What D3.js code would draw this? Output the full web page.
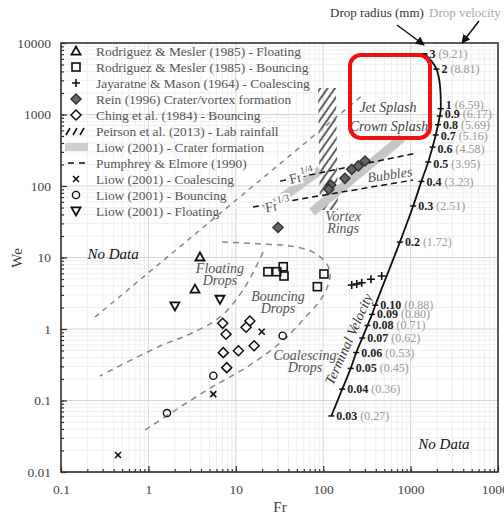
<!DOCTYPE html>
<html>
<head>
<meta charset="utf-8">
<script src="https://cdn.jsdelivr.net/npm/d3@7"></script>
<style>
  body { margin: 0; background: #fff; }
  text { font-family: "Liberation Serif", "DejaVu Serif", serif; }
</style>
</head>
<body>
<div id="chart"></div>
<script>
// ---- data (Fr, We) ----
var rmFloatFr = [3.89, 3.41], rmFloatWe = [10.2, 3.62];
var rmBounceFr = [23.3, 29.4, 34.9, 35.6, 102, 85.7], rmBounceWe = [6.33, 6.33, 7.43, 5.51, 5.88, 3.91];
var jmFr = [212, 242, 276, 352, 467], jmWe = [4.12, 4.26, 4.44, 4.96, 5.51];
var reinFr = [30.4, 122, 116, 177, 212, 252, 301], reinWe = [26.3, 103, 90, 128, 171, 191, 224];
var chingFr = [7.08, 7.73, 14.5, 13.1, 16.2, 10.7, 7.19, 7.87], chingWe = [1.20, 0.844, 1.29, 1.06, 0.583, 0.497, 0.467, 0.288];
var liowCoalFr = [0.449, 5.53, 19.8], liowCoalWe = [0.0173, 0.123, 0.916];
var liowBounceFr = [1.63, 5.53, 34.4], liowBounceWe = [0.0668, 0.222, 0.806];
var liowFloatFr = [2.01, 6.59], liowFloatWe = [2.10, 2.60];

// terminal velocity: drop radius (mm) and velocity (m/s)
var radii = [3, 2, 1, 0.9, 0.8, 0.7, 0.6, 0.5, 0.4, 0.3, 0.2, 0.10, 0.09, 0.08, 0.07, 0.06, 0.05, 0.04, 0.03];
var radiusLabels = ["3", "2", "1", "0.9", "0.8", "0.7", "0.6", "0.5", "0.4", "0.3", "0.2", "0.10", "0.09", "0.08", "0.07", "0.06", "0.05", "0.04", "0.03"];
var velocities = [9.21, 8.81, 6.59, 6.17, 5.69, 5.16, 4.58, 3.95, 3.23, 2.51, 1.72, 0.88, 0.80, 0.71, 0.62, 0.53, 0.45, 0.36, 0.27];

// regime boundaries (gray dashed)
var noDataLine = [[0.245, 1.47], [285, 1874]];
var bounceOuter = [[6.95, 16.5], [18.9, 15.5], [41.7, 14.5], [76.4, 11.9], [108, 8.38], [120, 5.69], [99.5, 2.90], [58.7, 1.34], [32.1, 0.637], [13.4, 0.294], [4.68, 0.140], [0.914, 0.0386]];
var floatInner = [[20.5, 11.9], [12.1, 3.51], [6.59, 1.47], [2.99, 0.851], [1.36, 0.578], [0.279, 0.220]];
// Pumphrey & Elmore (black dashed)
var pumphreyUpper = [[32.1, 117], [1183, 290]];
var pumphreyLower = [[15.7, 50.8], [1064, 121]];
// Liow crater bands
var craterLeft = [[21.6, 46.1], [91.8, 167]];
var craterRight = [[74.5, 43.2], [798, 469]];
// Peirson hatched area
var peirson = [[87.3, 2350], [140, 2350], [147.6, 46.1], [91.8, 46.1]];

var xTicks = [0.1, 1, 10, 100, 1000, 10000];
var yTicks = [0.01, 0.1, 1, 10, 100, 1000, 10000];

var legendItems = [
  {sym: "triUp", label: "Rodriguez & Mesler (1985) - Floating"},
  {sym: "square", label: "Rodriguez & Mesler (1985) - Bouncing"},
  {sym: "plus", label: "Jayaratne & Mason (1964) - Coalescing"},
  {sym: "diamondFill", label: "Rein (1996)  Crater/vortex formation"},
  {sym: "diamond", label: "Ching et al. (1984) - Bouncing"},
  {sym: "hatch", label: "Peirson et al. (2013) - Lab rainfall"},
  {sym: "band", label: "Liow (2001) - Crater formation"},
  {sym: "dash", label: "Pumphrey & Elmore (1990)"},
  {sym: "cross", label: "Liow (2001) - Coalescing"},
  {sym: "circle", label: "Liow (2001) - Bouncing"},
  {sym: "triDown", label: "Liow (2001) - Floating"}
];

var regionLabels = [
  {t: "No Data", fr: 0.394, we: 10.8, c: "#111", s: 15},
  {t: "No Data", fr: 2410, we: 0.0231, c: "#111", s: 15},
  {t: "Floating", fr: 6.59, we: 6.68, c: "#555", s: 14},
  {t: "Drops", fr: 6.59, we: 4.54, c: "#555", s: 14},
  {t: "Bouncing", fr: 30.4, we: 2.72, c: "#555", s: 14},
  {t: "Drops", fr: 30.4, we: 1.85, c: "#555", s: 14},
  {t: "Coalescing", fr: 61.9, we: 0.405, c: "#555", s: 14},
  {t: "Drops", fr: 61.9, we: 0.276, c: "#555", s: 14},
  {t: "Vortex", fr: 169, we: 35.6, c: "#555", s: 14},
  {t: "Rings", fr: 169, we: 24.3, c: "#555", s: 14},
  {t: "Jet Splash", fr: 551, we: 1194, c: "#444", s: 14},
  {t: "Crown Splash", fr: 566, we: 647, c: "#444", s: 14}
];

// ---- layout ----
var W = 504, H = 521;
var svg = d3.select("#chart").append("svg").attr("width", W).attr("height", H);

var x = d3.scaleLog().domain([0.1, 10000]).range([61, 498]);
var y = d3.scaleLog().domain([0.01, 10000]).range([472, 43]);

function minors(lo, hi) {
  var out = [];
  for (var k = lo; k < hi; k++) for (var m = 1; m <= 9; m++) out.push(+(m + "e" + k));
  return out;
}
var xMinor = minors(-1, 4), yMinor = minors(-2, 4);

var defs = svg.append("defs");
defs.append("pattern").attr("id", "hatch").attr("patternUnits", "userSpaceOnUse")
  .attr("width", 6).attr("height", 6).attr("patternTransform", "rotate(35)")
  .append("line").attr("x1", 1).attr("y1", 0).attr("x2", 1).attr("y2", 6)
  .attr("stroke", "#222").attr("stroke-width", 1.4);
defs.append("marker").attr("id", "arrow").attr("viewBox", "0 0 10 10")
  .attr("refX", 9).attr("refY", 5).attr("markerWidth", 6).attr("markerHeight", 6)
  .attr("orient", "auto").append("path").attr("d", "M0,0L10,5L0,10z").attr("fill", "#111");
defs.append("clipPath").attr("id", "plotClip").append("rect")
  .attr("x", 61).attr("y", 43).attr("width", 437).attr("height", 429);

// grid
var grid = svg.append("g");
grid.selectAll("line.gx").data(xMinor).enter().append("line")
  .attr("x1", function(d) { return x(d); }).attr("x2", function(d) { return x(d); })
  .attr("y1", y(0.01)).attr("y2", y(10000))
  .attr("stroke", function(d) { return xTicks.indexOf(d) >= 0 ? "#d4d4d4" : "#efefef"; }).attr("stroke-width", 1);
grid.selectAll("line.gy").data(yMinor).enter().append("line")
  .attr("y1", function(d) { return y(d); }).attr("y2", function(d) { return y(d); })
  .attr("x1", x(0.1)).attr("x2", x(10000))
  .attr("stroke", function(d) { return yTicks.indexOf(d) >= 0 ? "#d4d4d4" : "#efefef"; }).attr("stroke-width", 1);

var plot = svg.append("g").attr("clip-path", "url(#plotClip)");
var line = d3.line().x(function(d) { return x(d[0]); }).y(function(d) { return y(d[1]); });

// Peirson hatched region
plot.append("path").datum(peirson).attr("d", function(d) { return line(d) + "Z"; })
  .attr("fill", "url(#hatch)");

// crater bands
[craterLeft, craterRight].forEach(function(b) {
  plot.append("path").datum(b).attr("d", line).attr("stroke", "#c6c6c6")
    .attr("stroke-width", 9).attr("fill", "none");
});

// regime boundaries
plot.append("path").datum(noDataLine).attr("d", line).attr("fill", "none")
  .attr("stroke", "#888").attr("stroke-width", 1.5).attr("stroke-dasharray", "5,5");
var smooth = d3.line().curve(d3.curveCatmullRom.alpha(0.5))
  .x(function(d) { return x(d[0]); }).y(function(d) { return y(d[1]); });
[bounceOuter, floatInner].forEach(function(b) {
  plot.append("path").datum(b).attr("d", smooth).attr("fill", "none")
    .attr("stroke", "#888").attr("stroke-width", 1.5).attr("stroke-dasharray", "6,5");
});
[pumphreyUpper, pumphreyLower].forEach(function(b) {
  plot.append("path").datum(b).attr("d", line).attr("fill", "none")
    .attr("stroke", "#111").attr("stroke-width", 1.5).attr("stroke-dasharray", "6,4");
});

// terminal velocity curve
var tv = radii.map(function(r, i) {
  var d = 2 * r / 1000, v = velocities[i];
  return [v * v / (9.81 * d), 1000 * v * v * d / 0.072];
});
svg.append("path").datum(tv).attr("d", smooth).attr("fill", "none")
  .attr("stroke", "#111").attr("stroke-width", 1.8);
// small vertical nudges so the crowded labels near the top stay readable
var labelNudge = [0, 0, -4, -2, 0.5, 1.5, 2, 2, 1, 0, 0, 0, 0, 0, 0, 0, 0, 0, 0];
var tvg = svg.append("g");
tv.forEach(function(p, i) {
  var cx = x(p[0]), cy = y(p[1]);
  tvg.append("line").attr("x1", cx - 3).attr("x2", cx + 3).attr("y1", cy).attr("y2", cy)
    .attr("stroke", "#111").attr("stroke-width", 1.5);
  var t = tvg.append("text").attr("x", cx + 5).attr("y", cy + 4 + labelNudge[i]).attr("font-size", 12);
  t.append("tspan").attr("font-weight", "bold").attr("fill", "#222").text(radiusLabels[i]);
  t.append("tspan").attr("fill", "#9a9a9a").text(" (" + velocities[i].toFixed(2) + ")");
});
svg.append("text").attr("transform", "translate(353,341) rotate(-66)")
  .attr("text-anchor", "middle").attr("font-style", "italic").attr("font-size", 14)
  .attr("fill", "#333").text("Terminal Velocity");

// region labels
svg.selectAll("text.reg").data(regionLabels).enter().append("text")
  .attr("x", function(d) { return x(d.fr); }).attr("y", function(d) { return y(d.we); })
  .attr("text-anchor", "middle").attr("dominant-baseline", "middle")
  .attr("font-style", "italic").attr("font-size", function(d) { return d.s; })
  .attr("fill", function(d) { return d.c; }).text(function(d) { return d.t; });

function frLabel(fr, we, ang, exp) {
  var t = svg.append("text").attr("transform", "translate(" + x(fr) + "," + y(we) + ") rotate(" + ang + ")")
    .attr("text-anchor", "middle").attr("dominant-baseline", "middle")
    .attr("font-size", 14).attr("fill", "#555")
    .attr("stroke", "#fff").attr("stroke-width", 4).attr("paint-order", "stroke");
  t.append("tspan").text("Fr");
  t.append("tspan").attr("font-size", 10).attr("dy", -6).text(exp);
}
frLabel(57.1, 129, -14, "1/4");
frLabel(30.4, 50.8, -10, "1/3");
svg.append("text").attr("transform", "translate(" + x(581) + "," + y(138) + ") rotate(-8)")
  .attr("text-anchor", "middle").attr("dominant-baseline", "middle")
  .attr("font-style", "italic").attr("font-size", 14).attr("fill", "#555").text("Bubbles");

// symbols
function drawSym(g, sym, cx, cy) {
  var s = 4.5;
  if (sym === "triUp") g.append("path").attr("d", "M" + cx + "," + (cy - s) + "L" + (cx + s) + "," + (cy + s * 0.8) + "L" + (cx - s) + "," + (cy + s * 0.8) + "Z").attr("fill", "none").attr("stroke", "#111").attr("stroke-width", 1.8);
  else if (sym === "triDown") g.append("path").attr("d", "M" + cx + "," + (cy + s) + "L" + (cx + s) + "," + (cy - s * 0.8) + "L" + (cx - s) + "," + (cy - s * 0.8) + "Z").attr("fill", "none").attr("stroke", "#111").attr("stroke-width", 1.8);
  else if (sym === "square") g.append("rect").attr("x", cx - 4).attr("y", cy - 4).attr("width", 8).attr("height", 8).attr("fill", "none").attr("stroke", "#111").attr("stroke-width", 1.6);
  else if (sym === "diamond" || sym === "diamondFill") g.append("path").attr("d", "M" + cx + "," + (cy - 5) + "L" + (cx + 5) + "," + cy + "L" + cx + "," + (cy + 5) + "L" + (cx - 5) + "," + cy + "Z").attr("fill", sym === "diamond" ? "#fff" : "#666").attr("stroke", sym === "diamond" ? "#111" : "#333").attr("stroke-width", 1.5);
  else if (sym === "plus") g.append("path").attr("d", "M" + (cx - 4) + "," + cy + "H" + (cx + 4) + "M" + cx + "," + (cy - 4) + "V" + (cy + 4)).attr("stroke", "#111").attr("stroke-width", 1.6);
  else if (sym === "cross") g.append("path").attr("d", "M" + (cx - 3) + "," + (cy - 3) + "L" + (cx + 3) + "," + (cy + 3) + "M" + (cx + 3) + "," + (cy - 3) + "L" + (cx - 3) + "," + (cy + 3)).attr("stroke", "#111").attr("stroke-width", 1.6);
  else if (sym === "circle") g.append("circle").attr("cx", cx).attr("cy", cy).attr("r", 3.6).attr("fill", "none").attr("stroke", "#111").attr("stroke-width", 1.4);
  else if (sym === "hatch") g.append("path").attr("d", "M66,4L70,-3M73,4L77,-3M80,4L84,-3".replace(/(-?\d+),(-?\d+)/g, function(m, a, b) { return a + "," + (+b + cy); })).attr("stroke", "#111").attr("stroke-width", 1.6);
  else if (sym === "band") g.append("rect").attr("x", 65).attr("y", cy - 4).attr("width", 23).attr("height", 8).attr("fill", "#cfcfcf");
  else if (sym === "dash") g.append("path").attr("d", "M68," + cy + "H74M79," + cy + "H85").attr("stroke", "#111").attr("stroke-width", 1.6);
}
var series = [
  {sym: "triUp", fr: rmFloatFr, we: rmFloatWe},
  {sym: "square", fr: rmBounceFr, we: rmBounceWe},
  {sym: "plus", fr: jmFr, we: jmWe},
  {sym: "diamondFill", fr: reinFr, we: reinWe},
  {sym: "diamond", fr: chingFr, we: chingWe},
  {sym: "cross", fr: liowCoalFr, we: liowCoalWe},
  {sym: "circle", fr: liowBounceFr, we: liowBounceWe},
  {sym: "triDown", fr: liowFloatFr, we: liowFloatWe}
];
var pts = svg.append("g");
series.forEach(function(s) {
  s.fr.forEach(function(f, i) { drawSym(pts, s.sym, x(f), y(s.we[i])); });
});

// legend
var lg = svg.append("g");
legendItems.forEach(function(d, i) {
  var cy = 51 + i * 16;
  drawSym(lg, d.sym, 76, cy);
  lg.append("text").attr("x", 96).attr("y", cy + 4.5).attr("font-size", 13.4).attr("fill", "#555").text(d.label);
});

// red highlight box
svg.append("rect").attr("x", 350).attr("y", 55).attr("width", 80).attr("height", 83)
  .attr("rx", 11).attr("fill", "none").attr("stroke", "#f01010").attr("stroke-width", 4);

// axes
var xMinorAxis = d3.axisBottom(x).tickValues(xMinor).tickSize(-3).tickFormat("");
var xMajorAxis = d3.axisBottom(x).tickValues(xTicks).tickSize(-6).tickPadding(12)
  .tickFormat(function(d) { return String(d); });
var yMinorAxis = d3.axisLeft(y).tickValues(yMinor).tickSize(-3).tickFormat("");
var yMajorAxis = d3.axisLeft(y).tickValues(yTicks).tickSize(-6).tickPadding(10)
  .tickFormat(function(d) { return String(d); });
[xMinorAxis, xMajorAxis].forEach(function(a) {
  svg.append("g").attr("transform", "translate(0,472)").call(a);
});
[yMinorAxis, yMajorAxis].forEach(function(a) {
  svg.append("g").attr("transform", "translate(61,0)").call(a);
});
svg.selectAll(".domain").remove();
svg.selectAll(".tick line").attr("stroke", "#333").attr("stroke-width", 1.2);
svg.selectAll(".tick text").attr("font-family", "Liberation Serif, serif").attr("font-size", 13.5).attr("fill", "#444");

svg.append("rect").attr("x", 61).attr("y", 43).attr("width", 437).attr("height", 429)
  .attr("fill", "none").attr("stroke", "#333").attr("stroke-width", 1.6);

svg.append("text").attr("transform", "translate(22,258) rotate(-90)").attr("text-anchor", "middle")
  .attr("font-size", 15).attr("fill", "#444").text("We");
svg.append("text").attr("x", 280).attr("y", 512).attr("text-anchor", "middle")
  .attr("font-size", 15).attr("fill", "#444").text("Fr");

// top annotations
svg.append("text").attr("x", 330).attr("y", 17).attr("font-size", 13).attr("fill", "#333").text("Drop radius (mm)");
svg.append("text").attr("x", 429).attr("y", 17).attr("font-size", 13).attr("fill", "#aaa").text("Drop velocity (m/s)");
svg.append("line").attr("x1", 397).attr("y1", 25).attr("x2", 424).attr("y2", 45)
  .attr("stroke", "#111").attr("stroke-width", 1.5).attr("marker-end", "url(#arrow)");
svg.append("line").attr("x1", 479).attr("y1", 21).attr("x2", 462).attr("y2", 43)
  .attr("stroke", "#111").attr("stroke-width", 1.5).attr("marker-end", "url(#arrow)");
</script>
</body>
</html>
